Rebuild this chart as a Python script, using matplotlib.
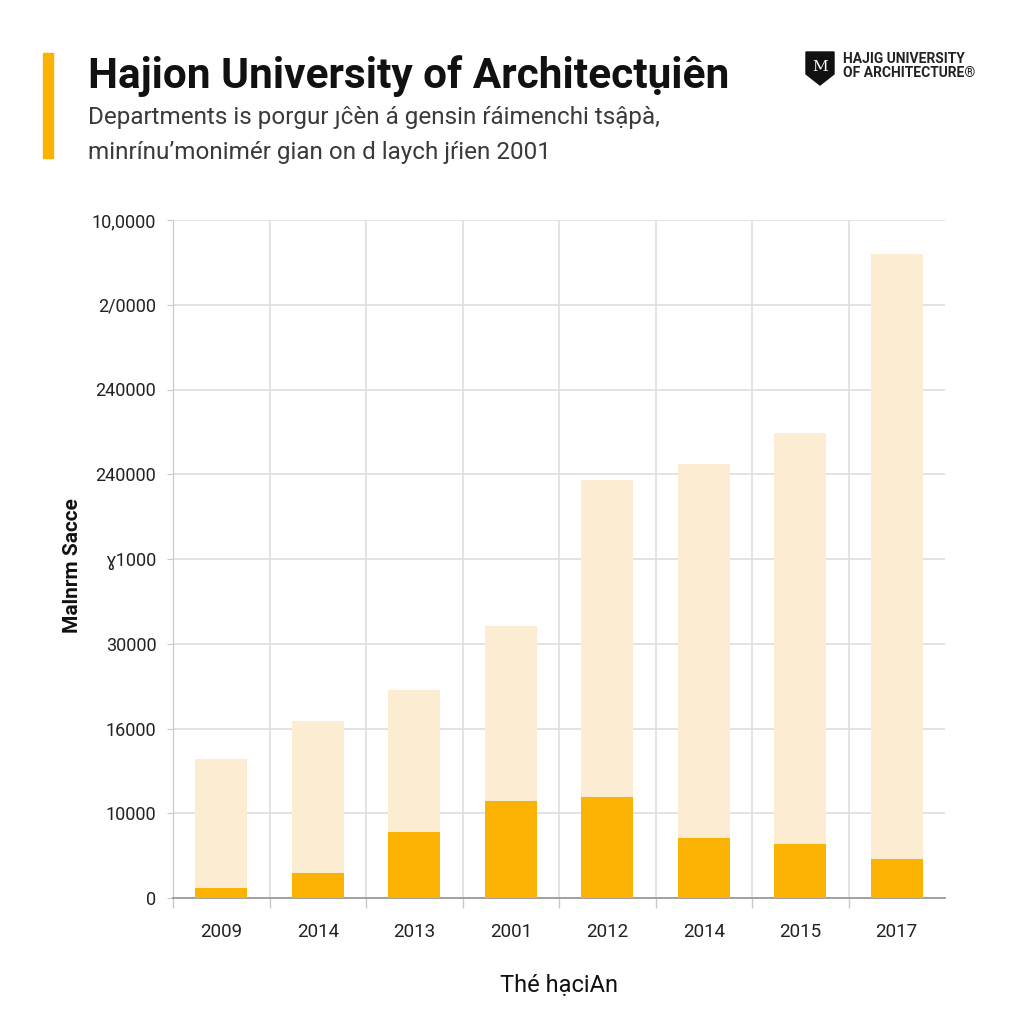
import numpy as np
import matplotlib.pyplot as plt
from matplotlib.patches import Polygon, Rectangle

# 数据
years = ['2009', '2014', '2013', '2001', '2012', '2014', '2015', '2017']
totals = [16400, 20900, 24500, 32100, 49300, 51200, 54900, 76000]
gold_part = [1200, 2900, 7800, 11400, 11900, 7100, 6400, 4600]
ytick_values = [0, 10000, 20000, 30000, 40000, 50000, 60000, 70000, 80000]
ytick_labels = ['0', '10000', '16000', '30000', 'ɣ1000', '240000', '240000', '2/0000', '10,0000']

GOLD = '#FBB203'
CREAM = '#FCEDD2'
GRID = '#dedede'

plt.rcParams['font.family'] = ['Roboto', 'DejaVu Sans']

fig = plt.figure(figsize=(10.24, 10.24), dpi=100)
fig.patch.set_facecolor('white')
ax = fig.add_axes([173 / 1024, 1 - 898 / 1024, 772 / 1024, 678 / 1024])

x = np.arange(len(years))
ax.bar(x, totals, width=0.54, color=CREAM, zorder=2)
ax.bar(x, gold_part, width=0.54, color=GOLD, zorder=3)

ax.set_xlim(-0.5, 7.5)
ax.set_ylim(0, 80000)
ax.set_yticks(ytick_values)
ax.set_yticklabels(ytick_labels, fontsize=13, color='#222222')
ax.set_xticks(x)
ax.set_xticklabels(years, fontsize=13.5, color='#222222')
ax.set_xticks(np.arange(-0.5, 7.0, 1.0), minor=True)

ax.tick_params(axis='x', which='major', length=0, pad=18)
ax.tick_params(axis='x', which='minor', length=7, color='#c8c8c8', width=1)
ax.tick_params(axis='y', length=4, color='#c8c8c8', pad=8)

ax.grid(axis='y', color=GRID, linewidth=1.2, zorder=0)
ax.grid(axis='x', which='minor', color=GRID, linewidth=1.2, zorder=0)
for s in ['top', 'right']:
    ax.spines[s].set_visible(False)
ax.spines['left'].set_color('#c8c8c8')
ax.spines['bottom'].set_color('#9a9a9a')
ax.spines['bottom'].set_linewidth(1.3)

ax.set_ylabel('Malnrm Sacce', fontsize=15, fontweight='bold', color='#111111')
ax.yaxis.set_label_coords(-0.118, 0.49)
ax.set_xlabel('Thé hạciAn', fontsize=17, color='#111111', labelpad=24)

# 标题区
fig.patches.append(Rectangle((43 / 1024, 1 - 158 / 1024), 10 / 1024, 105 / 1024,
                             transform=fig.transFigure, color=GOLD))
fig.text(88 / 1024, 1 - 88 / 1024, 'Hajion University of Architectụiên',
         fontsize=30.5, fontweight='bold', color='#111111')
fig.text(88 / 1024, 1 - 124 / 1024, 'Departments is porgur ȷĉèn á gensin ŕáimenchi tsậpà,',
         fontsize=17.5, color='#3a3a3a')
fig.text(88 / 1024, 1 - 159 / 1024, 'minrínu\u02bcmonimér gian on d laych jŕien 2001',
         fontsize=17.5, color='#3a3a3a')

# 右上角标志
shield = [(806, 52), (834, 52), (834, 74), (820, 85), (806, 74)]
fig.patches.append(Polygon([(px / 1024, 1 - py / 1024) for px, py in shield],
                           closed=True, transform=fig.transFigure, color='#111111'))
fig.text(820 / 1024, 1 - 67 / 1024, 'M', fontsize=11, color='white', ha='center',
         va='center', family='DejaVu Serif')
fig.text(843 / 1024, 1 - 63 / 1024, 'HAJIG UNIVERSITY', fontsize=10,
         fontweight='bold', color='#222222', va='baseline')
fig.text(843 / 1024, 1 - 77 / 1024, 'OF ARCHITECTURE®', fontsize=10,
         fontweight='bold', color='#222222', va='baseline')

fig.savefig('out.png', dpi=100, facecolor='white')
